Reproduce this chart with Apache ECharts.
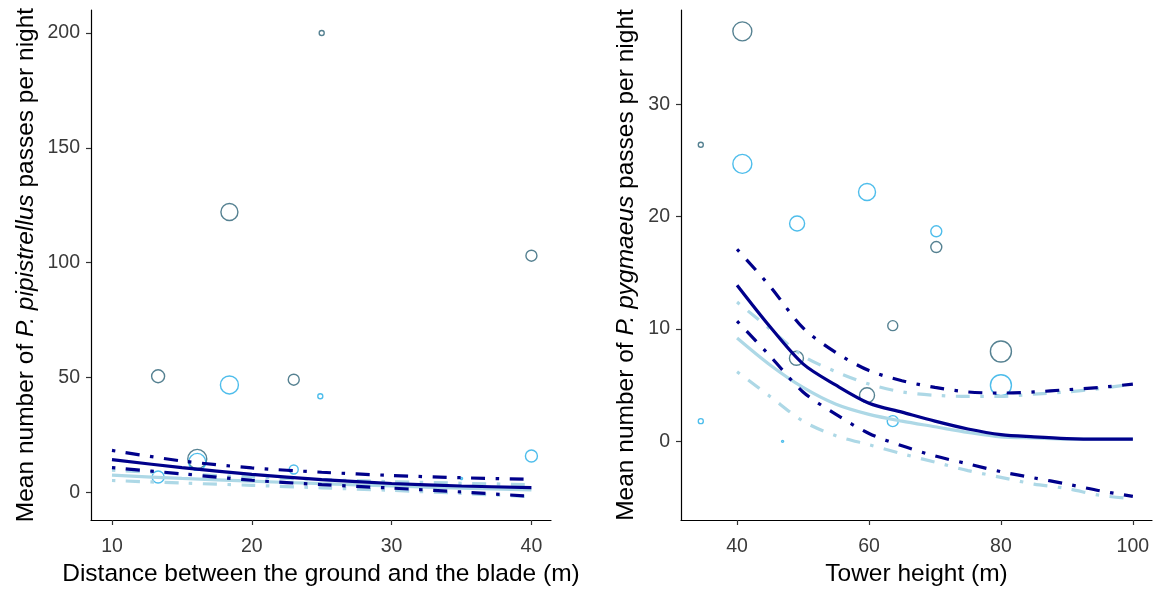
<!DOCTYPE html>
<html><head><meta charset="utf-8">
<script src="https://cdn.jsdelivr.net/npm/echarts@6/dist/echarts.min.js"></script>
<style>html,body{margin:0;padding:0;background:#fff}#c{width:1158px;height:592px}</style>
</head><body><div id="c"></div>
<script>
// ---------- DATA ----------
// Left panel: distance between ground and blade (m) vs P. pipistrellus passes
const leftDarkX = [25, 18.4, 40, 13.3, 23, 16.1];
const leftDarkY = [200, 122, 103, 50.5, 49, 14.5];
const leftDarkW = [1.5, 7.5, 4.5, 5.5, 4.5, 8.5];
const leftCyanX = [18.4, 24.9, 16.1, 13.3, 23, 40, 35];
const leftCyanY = [46.7, 41.8, 13.2, 6.6, 9.9, 15.8, 6.0];
const leftCyanW = [8, 1.5, 7.5, 5, 3.5, 5, 0];

const leftCurveX = [10, 15, 20, 25, 30, 35, 40];
const leftFitDark = [14.2, 10.7, 7.8, 5.5, 3.8, 2.7, 2.0];
const leftUpDark = [18.2, 13.6, 10.6, 8.7, 7.3, 6.3, 5.6];
const leftLoDark = [10.7, 8.0, 5.2, 3.3, 1.8, 0.1, -1.8];
const leftFitLight = [7.4, 6.0, 4.8, 3.7, 2.7, 1.8, 1.0];
const leftUpLight = [9.6, 8.0, 6.6, 5.5, 4.6, 3.9, 3.3];
const leftLoLight = [5.1, 4.0, 3.0, 1.9, 0.8, -0.5, -2.0];

// Right panel: tower height (m) vs P. pygmaeus passes
const rightDarkX = [40.8, 34.5, 70.2, 80, 63.6, 49, 59.7];
const rightDarkY = [36.5, 26.4, 17.3, 8.0, 10.3, 7.4, 4.1];
const rightDarkW = [8.5, 1.5, 4.5, 9.5, 4, 6, 6.5];
const rightCyanX = [40.8, 49.1, 59.7, 70.2, 80, 63.6, 34.5, 46.9];
const rightCyanY = [24.7, 19.4, 22.2, 18.7, 5.0, 1.8, 1.8, 0.0];
const rightCyanW = [8.5, 6.5, 7.5, 4.5, 9.5, 4.5, 1.5, 0];

const rightCurveX = [40, 45, 50, 55, 60, 65, 70, 75, 80, 85, 90, 95, 100];
const rightFitDark = [13.9, 10.2, 6.9, 5.0, 3.4, 2.6, 1.8, 1.1, 0.6, 0.4, 0.25, 0.2, 0.2];
const rightUpDark = [17.1, 13.8, 10.1, 7.9, 6.3, 5.4, 4.8, 4.4, 4.3, 4.4, 4.6, 4.8, 5.1];
const rightLoDark = [10.7, 7.6, 4.4, 2.4, 0.7, -0.4, -1.3, -2.0, -2.7, -3.25, -3.8, -4.4, -4.9];
const rightFitLight = [9.2, 6.8, 4.8, 3.3, 2.4, 1.8, 1.3, 0.8, 0.4, 0.3, 0.2, 0.2, 0.2];
const rightUpLight = [12.4, 10.0, 7.6, 6.2, 5.1, 4.4, 4.1, 4.0, 4.0, 4.2, 4.4, 4.7, 5.1];
const rightLoLight = [6.2, 4.0, 1.8, 0.5, -0.3, -1.1, -1.85, -2.6, -3.2, -3.8, -4.2, -4.8, -5.1];

const leftXTicks = [10, 20, 30, 40];
const leftYTicks = [0, 50, 100, 150, 200];
const rightXTicks = [40, 60, 80, 100];
const rightYTicks = [0, 10, 20, 30];

// ---------- CHART ----------
const FONT = 'Liberation Sans, Arial, sans-serif';
const DARK_PT = '#2a6275';
const CYAN_PT = '#22ade6';
const NAVY = '#00008b';
const LIGHT = '#add8e6';
const DOTDASH = [3.5, 10.5, 14, 10.5];
const TICK_TXT = '#3a3a3a';

const zip3 = (xs, ys, ws) => xs.map((x, i) => [x, ys[i], ws[i]]);
const zip2 = (xs, ys) => xs.map((x, i) => [x, ys[i]]);
const sizeScale = w => 2 + 2 * w;

function xAxis(idx, min, max, ticks, name) {
  return {
    type: 'value', gridIndex: idx, min, max,
    splitLine: { show: false },
    axisLine: { onZero: false, lineStyle: { color: '#000', width: 1.2 } },
    axisTick: { length: 5, lineStyle: { color: '#333', width: 1.2 }, customValues: ticks },
    axisLabel: { customValues: ticks, color: TICK_TXT, fontSize: 19.5, fontFamily: FONT, margin: 17 },
    name, nameLocation: 'middle', nameGap: 42,
    nameTextStyle: { color: '#000', fontSize: 24.5, fontFamily: FONT }
  };
}
function yAxis(idx, min, max, ticks, species, gap) {
  return {
    type: 'value', gridIndex: idx, min, max,
    splitLine: { show: false },
    axisLine: { show: true, onZero: false, lineStyle: { color: '#000', width: 1.2 } },
    axisTick: { show: true, length: 5, lineStyle: { color: '#333', width: 1.2 }, customValues: ticks },
    axisLabel: { customValues: ticks, color: TICK_TXT, fontSize: 19.5, fontFamily: FONT, margin: 11 },
    name: '{n|Mean number of }{i|' + species + '}{n| passes per night}',
    nameLocation: 'middle', nameRotate: 90, nameGap: gap,
    nameTextStyle: {
      color: '#000', fontSize: 24.5, fontFamily: FONT,
      rich: {
        n: { fontSize: 24.5, fontFamily: FONT, color: '#000' },
        i: { fontSize: 24.5, fontFamily: FONT, color: '#000', fontStyle: 'italic' }
      }
    }
  };
}
function pts(idx, data, color) {
  return {
    type: 'scatter', xAxisIndex: idx, yAxisIndex: idx, data,
    symbol: 'circle', symbolSize: v => sizeScale(v[2]),
    itemStyle: { color: 'rgba(0,0,0,0)', borderColor: color, borderWidth: 1.4 },
    silent: true, z: 2
  };
}
function line(idx, data, color, dashed, z) {
  return {
    type: 'line', xAxisIndex: idx, yAxisIndex: idx, data,
    symbol: 'none', smooth: 0.3, silent: true, z,
    lineStyle: { color, width: 3.2, type: dashed ? DOTDASH : 'solid', cap: 'butt' }
  };
}

const chart = echarts.init(document.getElementById('c'), null, { renderer: 'canvas' });
chart.setOption({
  animation: false,
  backgroundColor: '#fff',
  grid: [
    { left: 91, top: 10, width: 460, height: 512 },
    { left: 681, top: 10, width: 471, height: 512 }
  ],
  xAxis: [
    xAxis(0, 8.5, 41.4, leftXTicks, 'Distance between the ground and the blade (m)'),
    xAxis(1, 31.5, 102.9, rightXTicks, 'Tower height (m)')
  ],
  yAxis: [
    yAxis(0, -12.1, 210, leftYTicks, 'P. pipistrellus', 52),
    yAxis(1, -7.0, 38.4, rightYTicks, 'P. pygmaeus', 42)
  ],
  series: [
    pts(0, zip3(leftDarkX, leftDarkY, leftDarkW), DARK_PT),
    pts(0, zip3(leftCyanX, leftCyanY, leftCyanW), CYAN_PT),
    line(0, zip2(leftCurveX, leftUpLight), LIGHT, true, 3),
    line(0, zip2(leftCurveX, leftLoLight), LIGHT, true, 3),
    line(0, zip2(leftCurveX, leftFitLight), LIGHT, false, 3),
    line(0, zip2(leftCurveX, leftUpDark), NAVY, true, 4),
    line(0, zip2(leftCurveX, leftLoDark), NAVY, true, 4),
    line(0, zip2(leftCurveX, leftFitDark), NAVY, false, 4),

    pts(1, zip3(rightDarkX, rightDarkY, rightDarkW), DARK_PT),
    pts(1, zip3(rightCyanX, rightCyanY, rightCyanW), CYAN_PT),
    line(1, zip2(rightCurveX, rightUpLight), LIGHT, true, 3),
    line(1, zip2(rightCurveX, rightLoLight), LIGHT, true, 3),
    line(1, zip2(rightCurveX, rightFitLight), LIGHT, false, 3),
    line(1, zip2(rightCurveX, rightUpDark), NAVY, true, 4),
    line(1, zip2(rightCurveX, rightLoDark), NAVY, true, 4),
    line(1, zip2(rightCurveX, rightFitDark), NAVY, false, 4)
  ]
});
</script></body></html>
